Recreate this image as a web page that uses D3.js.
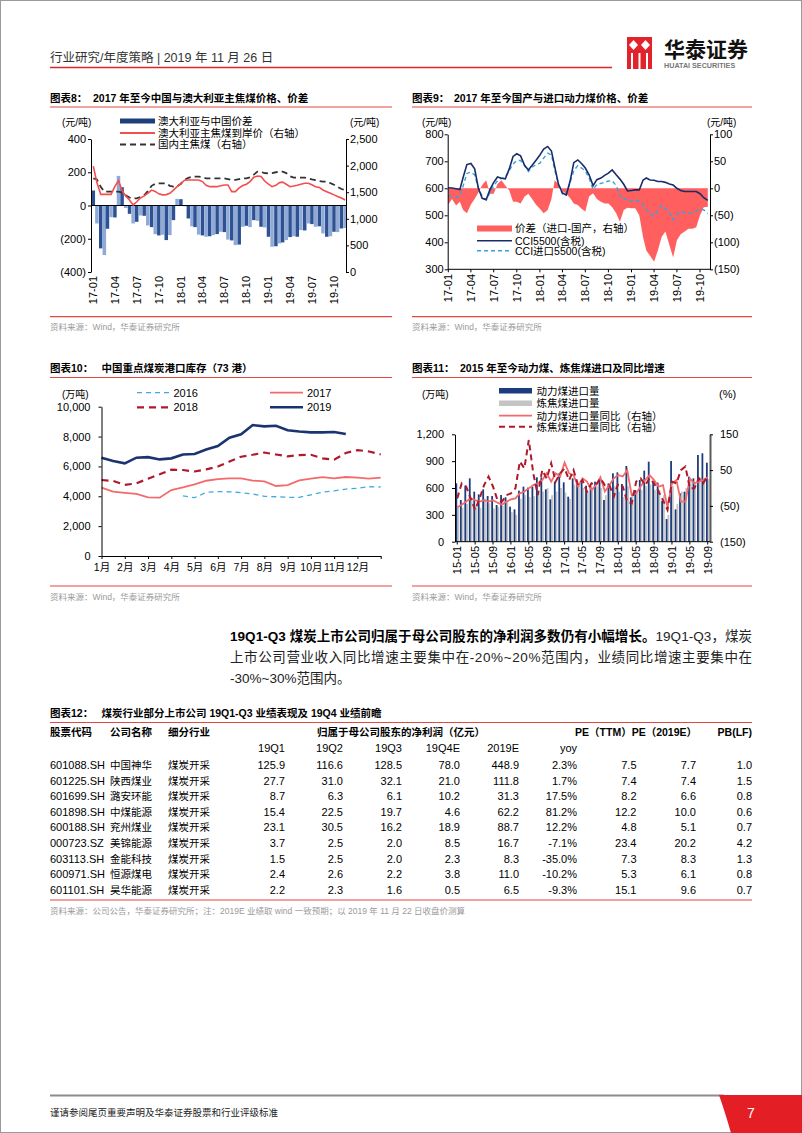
<!DOCTYPE html>
<html><head><meta charset="utf-8">
<script src="https://cdn.jsdelivr.net/npm/d3@7"></script>
<style>
body{margin:0;background:#fff;}
svg{display:block;}
</style></head><body>
<svg id="page" width="802" height="1133"></svg>
<script>
// ---------------- DATA ----------------
// Chart 8 (half-month steps from 2017-01)
const c8Gap = [90,-108,-258,-298,-140,-70,-72,178,110,-15,-50,-108,-98,-60,-62,-120,-130,-172,-180,-176,-208,-178,-88,40,38,-5,-78,-125,-130,-175,-180,-188,-185,-178,-172,-158,-160,-205,-210,-238,-235,-128,-122,-130,-88,-92,-128,-132,-188,-248,-245,-228,-222,-208,-190,-185,-188,-148,-150,-108,-112,-128,-125,-168,-188,-185,-158,-160,-138,-135];
const c8Aus = [1990,1680,1460,1460,1460,1460,1610,1720,1530,1430,1354,1260,1320,1390,1430,1480,1540,1515,1470,1450,1455,1480,1540,1604,1660,1725,1730,1730,1730,1730,1700,1630,1604,1604,1604,1620,1636,1636,1510,1510,1580,1625,1650,1700,1780,1805,1795,1710,1650,1604,1630,1680,1690,1650,1604,1615,1630,1650,1667,1667,1640,1604,1590,1542,1510,1480,1450,1420,1390,1354];
const c8Dom = [1760,1740,1600,1510,1510,1510,1510,1510,1490,1440,1400,1385,1385,1410,1440,1520,1620,1660,1667,1667,1667,1620,1604,1610,1660,1730,1770,1793,1793,1793,1780,1760,1760,1760,1760,1760,1760,1745,1730,1730,1745,1760,1760,1780,1830,1886,1880,1860,1855,1860,1875,1886,1886,1860,1800,1773,1773,1773,1773,1760,1740,1725,1710,1698,1698,1670,1640,1600,1560,1545];
const c8LeftTicks = [-400,-200,0,200,400];
const c8RightTicks = [0,500,1000,1500,2000,2500];

// Chart 9 (half-month steps from 2017-01)
const c9Cci = [602,601,598,595,640,688,692,672,600,563,558,595,622,642,637,635,672,718,728,720,685,668,685,703,723,745,755,738,680,615,583,575,625,695,705,692,675,650,610,632,638,648,656,668,650,634,615,590,592,594,594,630,638,631,630,625,625,622,616,612,600,592,588,588,588,588,580,565,555];
const c9Imp = [572,570,568,570,608,655,660,650,600,571,557,584,610,628,637,642,665,690,703,703,684,662,678,688,693,712,730,724,668,615,578,578,620,665,684,675,665,638,596,614,618,622,627,628,610,575,558,562,551,557,552,540,522,506,495,520,536,525,512,483,504,514,510,507,507,516,522,520,507];
const c9Diff = [-30,-20,-32,-25,-40,-46,-30,-20,-8,6,15,-10,-10,8,15,5,-4,-25,-25,-28,-15,-10,-20,-30,-38,-46,-40,-20,15,8,-5,-10,-18,-28,-31,-38,-43,-15,-9,-20,-25,-28,-28,-35,-46,-62,-40,-36,-37,-37,-50,-90,-115,-125,-136,-115,-90,-80,-105,-128,-96,-85,-80,-75,-75,-72,-50,-35,-34];
const c9LeftTicks = [300,400,500,600,700,800];
const c9RightTicks = [-150,-100,-50,0,50,100];

// Chart 10 (half-month steps from Jan)
const c10Months = ["1月","2月","3月","4月","5月","6月","7月","8月","9月","10月","11月","12月"];
const c10y2016 = [null,null,null,null,null,null,null,4020,3905,4265,4310,4300,4240,4150,4000,3970,3930,3930,4100,4280,4360,4485,4540,4640,4620];
const c10y2017 = [4575,4310,4230,4160,3930,3905,4420,4600,4800,5040,5150,5200,5200,5050,5000,4690,4750,5060,5180,5280,5200,5290,5245,5180,5245];
const c10y2018 = [5090,5030,4760,4865,5180,5470,5780,5760,5660,5800,5990,6330,6650,6780,6930,6800,6670,6760,6780,6540,6450,6900,7090,7000,6800];
const c10y2019 = [6585,6360,6205,6585,6620,6470,6540,6800,6830,7130,7365,7920,8150,8770,8680,8720,8420,8340,8280,8280,8310,8170];
const c10Ticks = [0,2000,4000,6000,8000,10000];

// Chart 11 (monthly from 2015-01)
const c11Thermal = [652,466,626,708,559,529,585,510,510,410,522,496,391,361,570,615,604,615,719,719,585,473,671,764,663,503,708,671,671,626,622,671,697,466,652,764,775,645,846,496,578,690,794,894,671,660,458,253,902,361,540,559,727,708,969,988,883];
const c11Coking = [400,380,420,460,400,380,480,430,370,390,400,440,330,300,480,520,500,510,560,560,600,520,560,600,550,480,640,640,600,560,580,620,600,520,600,620,560,500,620,550,560,580,620,640,580,580,520,300,620,420,560,600,700,640,720,680,700];
const c11ThermalYoy = [-54,-47,-38,-29,-34,-38,-34,-38,-34,-41,-47,-38,-32,-29,-15,-10,-1,8,13,22,41,18,41,32,71,41,36,4,27,18,-6,8,30,-10,8,27,36,32,50,-20,-15,4,22,36,22,4,8,-54,13,22,-38,-38,27,13,18,22,30];
const c11CokingYoy = [-29,13,4,-29,-61,-29,8,32,4,-34,-38,-20,-15,-1,74,55,134,41,-20,50,27,69,18,41,55,22,50,8,22,-10,13,8,27,8,8,-24,13,4,-38,-43,18,27,8,27,13,-10,-34,-61,18,13,50,60,-1,-1,27,13,36];
const c11LeftTicks = [0,300,600,900,1200];
const c11RightTicks = [-150,-50,50,150];

// Table 12
const tCodes = ["601088.SH","601225.SH","601699.SH","601898.SH","600188.SH","000723.SZ","603113.SH","600971.SH","601101.SH"];
const tNames = ["中国神华","陕西煤业","潞安环能","中煤能源","兖州煤业","美锦能源","金能科技","恒源煤电","昊华能源"];
const tInd = ["煤炭开采","煤炭开采","煤炭开采","煤炭开采","煤炭开采","煤炭开采","煤炭开采","煤炭开采","煤炭开采"];
const tQ1 = [125.9,27.7,8.7,15.4,23.1,3.7,1.5,2.4,2.2];
const tQ2 = [116.6,31.0,6.3,22.5,30.5,2.5,2.5,2.6,2.3];
const tQ3 = [128.5,32.1,6.1,19.7,16.2,2.0,2.0,2.2,1.6];
const tQ4E = [78.0,21.0,10.2,4.6,18.9,8.5,2.3,3.8,0.5];
const t2019E = [448.9,111.8,31.3,62.2,88.7,16.7,8.3,11.0,6.5];
const tYoy = [2.3,1.7,17.5,81.2,12.2,-7.1,-35.0,-10.2,-9.3];
const tPeTTM = [7.5,7.4,8.2,12.2,4.8,23.4,7.3,5.3,15.1];
const tPe2019 = [7.7,7.4,6.6,10.0,5.1,20.2,8.3,6.1,9.6];
const tPb = [1.0,1.5,0.8,0.6,0.7,4.2,1.3,0.8,0.7];

// ---------------- HELPERS ----------------
const FONT = '"Liberation Sans",Arial,"Noto Sans CJK SC",sans-serif';
const RED = "#E4483F";
const svg = d3.select("#page");
const fmtParen = v => v < 0 ? "(" + d3.format(",")(-v) + ")" : d3.format(",")(v);
const halfMonthDates = (n, y, m) => d3.range(n).map(i => new Date(y, m + Math.floor(i / 2), i % 2 ? 16 : 1));

function txt(x, y, s, o = {}) {
  return svg.append("text").attr("x", x).attr("y", y)
    .attr("font-family", o.family || FONT).attr("font-size", o.size || 11)
    .attr("font-weight", o.weight || "normal").attr("fill", o.fill || "#000")
    .attr("text-anchor", o.anchor || "start").text(s);
}
function hline(x1, x2, y, color, w) {
  svg.append("line").attr("x1", x1).attr("x2", x2).attr("y1", y).attr("y2", y)
    .attr("stroke", color).attr("stroke-width", w);
}
function styleAxis(g, size) {
  g.attr("font-family", FONT).attr("font-size", size || 11);
  g.selectAll(".domain").attr("stroke", "#000");
  g.selectAll(".tick line").attr("stroke", "#000");
  g.selectAll(".tick text").attr("fill", "#000");
}
function rotLabels(dates, xf, yTop, fmt) {
  svg.append("g").selectAll("text").data(dates).join("text")
    .attr("transform", d => `translate(${xf(d)},${yTop}) rotate(-90)`)
    .attr("text-anchor", "end").attr("dy", "0.36em")
    .attr("font-family", FONT).attr("font-size", 11).text(fmt);
}
function chartTitle(x, xMain, y, label, main, lineX2) {
  txt(x, y, label, {weight: "bold", size: 10.5});
  txt(xMain, y, main, {weight: "bold", size: 10.5});
  hline(x, lineX2, y + 5.5, RED, 1.2);
}
function source(x, x2, yLine, s) {
  hline(x, x2, yLine, RED, 1.2);
  txt(x, yLine + 13.5, s, {size: 8.5, fill: "#9a9a9a"});
}

// ---------------- PAGE FRAME / HEADER / FOOTER ----------------
svg.append("rect").attr("x", 0.5).attr("y", 0.5).attr("width", 801).attr("height", 1132)
  .attr("fill", "none").attr("stroke", "#9a9a9a");
txt(50, 62, "行业研究/年度策略 | 2019 年 11 月 26 日", {size: 12.5, fill: "#333"});
hline(50, 612, 67.5, "#D8262C", 1.4);
// logo
svg.append("rect").attr("x", 627).attr("y", 37).attr("width", 25).attr("height", 32).attr("fill", "#E1232B");
[[633.5, 45], [645.5, 45]].forEach(([cx, cy]) => {
  svg.append("path").attr("d", `M${cx},${cy - 5} L${cx + 4.5},${cy} L${cx},${cy + 5} L${cx - 4.5},${cy} Z`).attr("fill", "#fff");
});
[632, 639.5, 647].forEach(x => svg.append("rect").attr("x", x - 1).attr("y", 53).attr("width", 2).attr("height", 16).attr("fill", "#fff"));
txt(664, 57, "华泰证券", {size: 21, weight: "bold", fill: "#111"});
txt(664, 68, "HUATAI SECURITIES", {size: 7.2, weight: "bold", fill: "#777"});

hline(50, 724, 1095.5, "#8c8c8c", 2);
svg.append("path").attr("d", "M719,1095 L802,1095 L802,1133 L731,1133 Q725,1112 719,1095 Z").attr("fill", "#E41E25");
txt(751, 1118, "7", {size: 14, fill: "#fff", anchor: "middle"});
txt(50, 1116, "谨请参阅尾页重要声明及华泰证券股票和行业评级标准", {size: 9.5, fill: "#222"});

// ---------------- CHART 8 ----------------
chartTitle(50, 93, 101.5, "图表8：", "2017 年至今中国与澳大利亚主焦煤价格、价差", 392);
{
  const dates = halfMonthDates(c8Gap.length, 2017, 0);
  const x = d3.scaleTime().domain([new Date(2017, 0, 1), new Date(2019, 9, 1)]).range([93.3, 334]);
  const yL = d3.scaleLinear().domain([-400, 400]).range([272, 139]);
  const yR = d3.scaleLinear().domain([0, 2500]).range([272, 139]);
  svg.append("g").selectAll("rect").data(c8Gap).join("rect")
    .attr("x", (d, i) => x(dates[i]) - 1.75).attr("width", 3.5)
    .attr("y", d => yL(Math.max(0, d))).attr("height", d => Math.abs(yL(d) - yL(0)))
    .attr("fill", (d, i) => i % 2 ? "#8FAAD6" : "#2D5193");
  hline(91, 346, yL(0), "#000", 1);
  const line = d3.line().x((d, i) => x(dates[i])).y(d => yR(d));
  svg.append("path").datum(c8Dom).attr("d", line).attr("fill", "none").attr("stroke", "#333").attr("stroke-width", 1.8).attr("stroke-dasharray", "6,4");
  svg.append("path").datum(c8Aus).attr("d", line).attr("fill", "none").attr("stroke", "#F44D4D").attr("stroke-width", 1.6);
  const gl = svg.append("g").attr("transform", "translate(91,0)")
    .call(d3.axisLeft(yL).tickValues(c8LeftTicks).tickFormat(fmtParen).tickSize(3).tickPadding(2).tickSizeOuter(0));
  styleAxis(gl);
  const gr = svg.append("g").attr("transform", "translate(346,0)")
    .call(d3.axisRight(yR).tickValues(c8RightTicks).tickFormat(d3.format(",")).tickSize(3).tickPadding(1).tickSizeOuter(0));
  styleAxis(gr);
  rotLabels(d3.timeMonth.range(new Date(2017, 0, 1), new Date(2019, 10, 1), 3), x, 276, d3.timeFormat("%y-%m"));
  txt(62, 126, "(元/吨)", {size: 10});
  txt(350, 126, "(元/吨)", {size: 10});
  // legend
  svg.append("rect").attr("x", 120).attr("y", 118.5).attr("width", 35).attr("height", 5).attr("fill", "#1F3F7A");
  hline(120, 155, 133, "#F44D4D", 2);
  svg.append("line").attr("x1", 120).attr("x2", 155).attr("y1", 144.5).attr("y2", 144.5).attr("stroke", "#333").attr("stroke-width", 2).attr("stroke-dasharray", "6,4");
  txt(158, 125, "澳大利亚与中国价差", {size: 10.5});
  txt(158, 136.5, "澳大利亚主焦煤到岸价（右轴）", {size: 10.5});
  txt(158, 148, "国内主焦煤（右轴）", {size: 10.5});
}
source(50, 392, 316.7, "资料来源：Wind，华泰证券研究所");

// ---------------- CHART 9 ----------------
chartTitle(412, 454, 101.5, "图表9：", "2017 年至今国产与进口动力煤价格、价差", 752);
{
  const dates = halfMonthDates(c9Cci.length, 2017, 0);
  const x = d3.scaleTime().domain([new Date(2017, 0, 1), new Date(2019, 9, 1)]).range([448.3, 700]);
  const yL = d3.scaleLinear().domain([300, 800]).range([269.3, 134.3]);
  const yR = d3.scaleLinear().domain([-150, 100]).range([269.3, 134.3]);
  const area = d3.area().x((d, i) => x(dates[i])).y0(yR(0)).y1(d => yR(d));
  svg.append("path").datum(c9Diff).attr("d", area).attr("fill", "#FF5F5F");
  const lineL = d3.line().x((d, i) => x(dates[i])).y(d => yL(d));
  svg.append("path").datum(c9Imp).attr("d", lineL).attr("fill", "none").attr("stroke", "#35A3DE").attr("stroke-width", 1.4).attr("stroke-dasharray", "4,3");
  svg.append("path").datum(c9Cci).attr("d", lineL).attr("fill", "none").attr("stroke", "#1A2C69").attr("stroke-width", 1.6);
  const gl = svg.append("g").attr("transform", "translate(447.7,0)")
    .call(d3.axisLeft(yL).tickValues(c9LeftTicks).tickSize(3).tickPadding(1).tickSizeOuter(0));
  styleAxis(gl);
  const gr = svg.append("g").attr("transform", "translate(710,0)")
    .call(d3.axisRight(yR).tickValues(c9RightTicks).tickFormat(fmtParen).tickSize(3).tickPadding(1).tickSizeOuter(0));
  styleAxis(gr);
  const q = d3.timeMonth.range(new Date(2017, 0, 1), new Date(2019, 10, 1), 3);
  hline(447.7, 710, 269.3, "#000", 1);
  svg.append("g").selectAll("line").data(q).join("line").attr("x1", d => x(d)).attr("x2", d => x(d))
    .attr("y1", 269.3).attr("y2", 272.3).attr("stroke", "#000");
  rotLabels(q, x, 274, d3.timeFormat("%y-%m"));
  txt(422, 126, "(元/吨)", {size: 10});
  txt(707, 126, "(元/吨)", {size: 10});
  svg.append("rect").attr("x", 477).attr("y", 225.5).attr("width", 35).attr("height", 6).attr("fill", "#FF5F5F");
  hline(477, 512, 240.7, "#1A2C69", 1.6);
  svg.append("line").attr("x1", 477).attr("x2", 512).attr("y1", 250.7).attr("y2", 250.7).attr("stroke", "#35A3DE").attr("stroke-width", 1.4).attr("stroke-dasharray", "4,3");
  txt(515, 232, "价差（进口-国产，右轴）", {size: 10.5});
  txt(515, 244.5, "CCI5500(含税)", {size: 10.5});
  txt(515, 254.5, "CCI进口5500(含税)", {size: 10.5});
}
source(412, 752, 316.7, "资料来源：Wind，华泰证券研究所");

// ---------------- CHART 10 ----------------
chartTitle(50, 101.5, 372, "图表10：", "中国重点煤炭港口库存（73 港）", 392);
{
  const x = d3.scaleLinear().domain([0, 12]).range([101.5, 380.7]);
  const y = d3.scaleLinear().domain([0, 10000]).range([556, 406.7]);
  const line = d3.line().defined(d => d != null).x((d, i) => x(i * 0.5)).y(d => y(d));
  svg.append("path").datum(c10y2016).attr("d", line).attr("fill", "none").attr("stroke", "#3FAAE0").attr("stroke-width", 1.3).attr("stroke-dasharray", "5,4");
  svg.append("path").datum(c10y2017).attr("d", line).attr("fill", "none").attr("stroke", "#F46A6C").attr("stroke-width", 1.8);
  svg.append("path").datum(c10y2018).attr("d", line).attr("fill", "none").attr("stroke", "#AE1A2C").attr("stroke-width", 2.2).attr("stroke-dasharray", "7,5");
  svg.append("path").datum(c10y2019).attr("d", line).attr("fill", "none").attr("stroke", "#1B3470").attr("stroke-width", 2.6);
  const gl = svg.append("g").attr("transform", "translate(101.5,0)")
    .call(d3.axisLeft(y).tickValues(c10Ticks).tickFormat(d3.format(",")).tickSize(3).tickPadding(8).tickSizeOuter(0));
  styleAxis(gl);
  const gb = svg.append("g").attr("transform", "translate(0,556)")
    .call(d3.axisBottom(x).tickValues(d3.range(0, 13)).tickFormat(i => c10Months[i] || "").tickSize(3).tickPadding(5).tickSizeOuter(0));
  styleAxis(gb, 10.5);
  txt(62, 397.5, "(万吨)", {size: 10});
  svg.append("line").attr("x1", 137).attr("x2", 170).attr("y1", 392.7).attr("y2", 392.7).attr("stroke", "#3FAAE0").attr("stroke-width", 1.3).attr("stroke-dasharray", "5,4");
  hline(270, 303, 392.7, "#F46A6C", 1.8);
  svg.append("line").attr("x1", 137).attr("x2", 170).attr("y1", 407.3).attr("y2", 407.3).attr("stroke", "#AE1A2C").attr("stroke-width", 2.2).attr("stroke-dasharray", "7,5");
  hline(270, 303, 407.3, "#1B3470", 2.6);
  txt(173.5, 396.7, "2016", {size: 11});
  txt(307, 396.7, "2017", {size: 11});
  txt(173.5, 411.3, "2018", {size: 11});
  txt(307, 411.3, "2019", {size: 11});
}
source(50, 392, 586, "资料来源：Wind，华泰证券研究所");

// ---------------- CHART 11 ----------------
chartTitle(412, 460, 372, "图表11：", "2015 年至今动力煤、炼焦煤进口及同比增速", 752);
{
  const months = d3.range(c11Thermal.length).map(i => new Date(2015, i, 1));
  const x = d3.scaleBand().domain(d3.range(months.length)).range([455, 710]);
  const bw = x.bandwidth();
  const yL = d3.scaleLinear().domain([0, 1200]).range([541.7, 434.3]);
  const yR = d3.scaleLinear().domain([-150, 150]).range([541.7, 434.3]);
  svg.append("g").selectAll("rect").data(c11Coking).join("rect")
    .attr("x", (d, i) => x(i) + bw * 0.5).attr("width", bw * 0.4)
    .attr("y", d => yL(d)).attr("height", d => yL(0) - yL(d)).attr("fill", "#C4C4C4");
  svg.append("g").selectAll("rect").data(c11Thermal).join("rect")
    .attr("x", (d, i) => x(i) + bw * 0.1).attr("width", bw * 0.4)
    .attr("y", d => yL(d)).attr("height", d => yL(0) - yL(d)).attr("fill", "#1D3C7C");
  const line = d3.line().x((d, i) => x(i) + bw / 2).y(d => yR(d));
  svg.append("path").datum(c11ThermalYoy).attr("d", line).attr("fill", "none").attr("stroke", "#F46A6C").attr("stroke-width", 1.8);
  svg.append("path").datum(c11CokingYoy).attr("d", line).attr("fill", "none").attr("stroke", "#B0182B").attr("stroke-width", 2).attr("stroke-dasharray", "6,4");
  const gl = svg.append("g").attr("transform", "translate(455,0)")
    .call(d3.axisLeft(yL).tickValues(c11LeftTicks).tickFormat(d3.format(",")).tickSize(3).tickPadding(8).tickSizeOuter(0));
  styleAxis(gl);
  const gr = svg.append("g").attr("transform", "translate(710,0)")
    .call(d3.axisRight(yR).tickValues(c11RightTicks).tickFormat(fmtParen).tickSize(3).tickPadding(7).tickSizeOuter(0));
  styleAxis(gr);
  gr.select(".domain").attr("stroke", "#5a5a5a").attr("stroke-width", 2);
  hline(455, 710, 541.7, "#000", 1);
  const lab = d3.range(0, months.length, 4);
  svg.append("g").selectAll("line").data(lab).join("line").attr("x1", i => x(i) + bw / 2).attr("x2", i => x(i) + bw / 2)
    .attr("y1", 541.7).attr("y2", 544.5).attr("stroke", "#000");
  rotLabels(lab, i => x(i) + bw / 2, 546, i => d3.timeFormat("%y-%m")(months[i]));
  txt(422, 397.5, "(万吨)", {size: 10});
  txt(719, 397.5, "(%)", {size: 11});
  svg.append("rect").attr("x", 499).attr("y", 388).attr("width", 33).attr("height", 5.5).attr("fill", "#1D3C7C");
  svg.append("rect").attr("x", 499).attr("y", 400.5).attr("width", 33).attr("height", 5.5).attr("fill", "#C4C4C4");
  hline(499, 532, 415.7, "#F46A6C", 1.8);
  svg.append("line").attr("x1", 499).attr("x2", 532).attr("y1", 426.7).attr("y2", 426.7).attr("stroke", "#B0182B").attr("stroke-width", 2).attr("stroke-dasharray", "6,4");
  txt(536.5, 394.5, "动力煤进口量", {size: 10.5});
  txt(536.5, 407, "炼焦煤进口量", {size: 10.5});
  txt(536.5, 419.5, "动力煤进口量同比（右轴）", {size: 10.5});
  txt(536.5, 430.5, "炼焦煤进口量同比（右轴）", {size: 10.5});
}
source(412, 752, 586, "资料来源：Wind，华泰证券研究所");

// ---------------- PARAGRAPH ----------------
{
  const t1 = svg.append("text").attr("x", 230).attr("y", 641).attr("font-family", FONT).attr("font-size", 13.5)
    .attr("textLength", 522).attr("lengthAdjust", "spacing");
  t1.append("tspan").attr("font-weight", "bold").attr("fill", "#000").text("19Q1-Q3 煤炭上市公司归属于母公司股东的净利润多数仍有小幅增长。");
  t1.append("tspan").attr("fill", "#222").text("19Q1-Q3，煤炭");
  svg.append("text").attr("x", 230).attr("y", 662).attr("font-family", FONT).attr("font-size", 13.5).attr("fill", "#222")
    .attr("textLength", 522).attr("lengthAdjust", "spacing")
    .text("上市公司营业收入同比增速主要集中在-20%~20%范围内，业绩同比增速主要集中在");
  txt(230, 683, "-30%~30%范围内。", {size: 13.5, fill: "#222"});
}

// ---------------- TABLE 12 ----------------
chartTitle(50, 101.5, 717, "图表12：", "煤炭行业部分上市公司 19Q1-Q3 业绩表现及 19Q4 业绩前瞻", 752);
{
  const hy = 736, h2 = 752, r0 = 769, rs = 15.6;
  txt(50, hy, "股票代码", {weight: "bold", size: 10.5});
  txt(110, hy, "公司名称", {weight: "bold", size: 10.5});
  txt(168, hy, "细分行业", {weight: "bold", size: 10.5});
  txt(401, hy, "归属于母公司股东的净利润（亿元）", {weight: "bold", size: 10.5, anchor: "middle"});
  txt(697, hy, "PE（TTM）PE（2019E）", {weight: "bold", size: 10.5, anchor: "end"});
  txt(752, hy, "PB(LF)", {weight: "bold", size: 10.5, anchor: "end"});
  const cols = [
    {x: 285, h: "19Q1", v: tQ1, f: d3.format(".1f")},
    {x: 343, h: "19Q2", v: tQ2, f: d3.format(".1f")},
    {x: 402, h: "19Q3", v: tQ3, f: d3.format(".1f")},
    {x: 460, h: "19Q4E", v: tQ4E, f: d3.format(".1f")},
    {x: 519, h: "2019E", v: t2019E, f: d3.format(".1f")},
    {x: 577, h: "yoy", v: tYoy, f: v => v.toFixed(1) + "%"},
    {x: 636.5, h: "", v: tPeTTM, f: d3.format(".1f")},
    {x: 696, h: "", v: tPe2019, f: d3.format(".1f")},
    {x: 752, h: "", v: tPb, f: d3.format(".1f")}
  ];
  cols.forEach(c => {
    if (c.h) txt(c.x, h2, c.h, {size: 11, anchor: "end"});
    c.v.forEach((v, i) => txt(c.x, r0 + i * rs, c.f(v), {size: 11, anchor: "end"}));
  });
  tCodes.forEach((c, i) => {
    txt(50, r0 + i * rs, c, {size: 11});
    txt(110, r0 + i * rs, tNames[i], {size: 10.5});
    txt(168, r0 + i * rs, tInd[i], {size: 10.5});
  });
  hline(50, 752, 900, RED, 1.2);
  txt(50, 914, "资料来源：公司公告，华泰证券研究所；注：2019E 业绩取 wind 一致预期；以 2019 年 11 月 22 日收盘价测算", {size: 8.5, fill: "#9a9a9a"});
}
</script>
</body></html>
